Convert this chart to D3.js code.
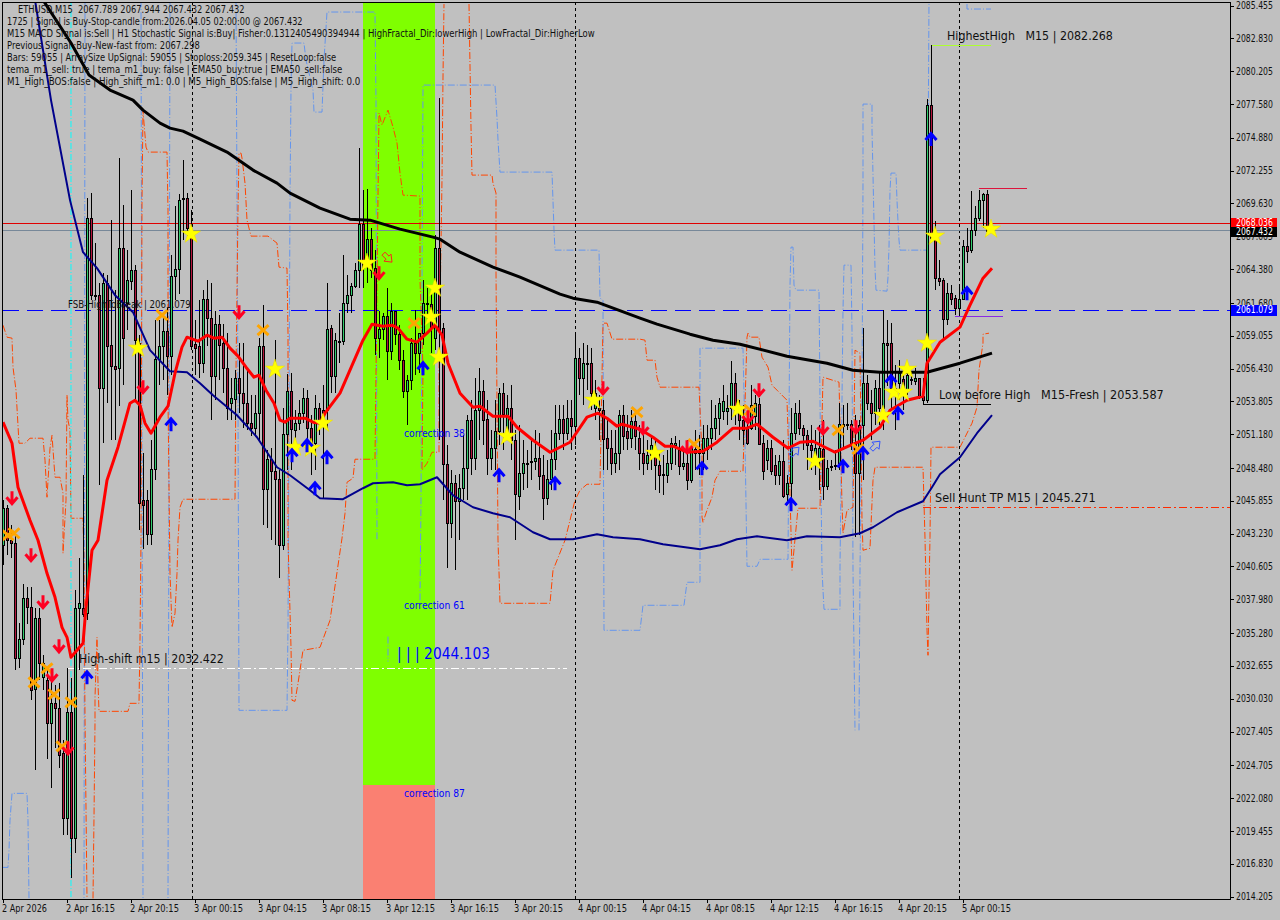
<!DOCTYPE html>
<html><head><meta charset="utf-8">
<style>html,body{margin:0;padding:0;background:#c0c0c0}svg{display:block}text{white-space:pre;font-family:"DejaVu Sans",sans-serif}</style>
<script src="https://cdn.jsdelivr.net/npm/d3@7/dist/d3.min.js"></script>
</head><body><div id="c"></div>
<script>
// Prices are stored as offsets from priceBase; the x unit is the M15 bar number.
const priceBase = 2000;
const candleOpen = [42.3,45.3,42.7,42.5,33.3,34.8,38.1,37.4,30.8,36.5,
31.8,31.5,28.1,29.7,29.3,25.7,20.5,29,18.9,37.3,
37.3,36.9,68.5,62.3,62.3,54.9,63.3,58.3,56.6,56.5,
66.1,61.7,63.4,64.3,58.5,45.9,45.9,43.2,48.4,57.2,
58.2,59.4,57.4,63.8,64.4,70,70.1,67.3,58.4,58.2,
56.9,62,60.5,55.8,60,58.5,56.5,53.7,54,55.7,
54.5,53.7,52.1,51.7,52.9,58.2,46.8,49.2,48.2,47.6,
42.3,51.2,54.6,51.5,52.1,52.9,54.1,51.7,50.5,53.3,
53.1,53.1,59.7,55.8,58.6,58.6,61.7,62.3,63,64.3,
68,64.9,66.8,64.5,58.9,59.6,60.6,57.8,61,59.2,
57.1,54.6,55.5,58.5,57.7,59.3,61.7,61.6,58.9,66.1,
59.7,48.8,44.1,47.3,45.8,46.9,48.5,52.3,49.3,53.1,
54.6,52.4,49.3,50.1,51.4,54.5,51.3,53.3,50.7,46.2,
48.1,48.9,49,49,49.3,47.9,46.1,47.6,49.2,51.3,
52.4,51.3,52.5,51.8,57.3,55.7,56.9,56.9,53.3,53.3,
53.1,50.9,50.1,48.9,49.7,52.7,51.4,50.9,52.2,50.9,
49.7,48.9,49.5,49.7,48.7,48,47.9,48.9,50.3,49.9,
48.6,48.9,47.5,49.7,50,49.7,50,50.9,51.7,52.5,
53,53,53.3,55.3,53.1,52.3,51.7,51.7,52.6,53.6,
50.5,49.1,50.1,48.7,47.9,49,46.4,47.3,51.3,52.9,
51.7,51.1,50.3,49.5,49.1,50,47,48.6,48.7,48.9,
51.8,52,52,50.5,48.1,51.9,55.3,53.7,52.9,54.9,
53.3,58.5,58.5,54.9,55.3,55.6,54.7,55.5,55.4,55.7,
54.2,53.9,77.5,67,63.7,63.5,60.4,62.5,62.1,61.3,
62,66.2,65.9,67.5,68.5,69.9,70.4];
const candleHigh = [45.9,45.5,43.9,43.1,36.1,39.2,39,39,37.3,37.3,
33.5,32.3,31.5,31.1,31.3,26.7,32.5,31.7,38.7,41.3,
47.9,70.1,70.5,66.5,63.3,64.1,63.9,68.3,62.7,73.3,
69.5,65.9,70.7,64.7,59.1,49.7,46.7,50.7,60.3,60.3,
60.7,61.3,65.5,69.4,70.4,73.1,70.5,69.1,60.3,61.9,
62.7,63.5,63.3,61,60.7,60,59.3,55.7,56.3,58.5,
58.5,56.3,54.3,54.3,58.9,61.5,49.9,50.1,58.7,48.3,
53.3,56,56.1,53.1,53.9,54.9,54.7,52.7,54.3,53.7,
55.1,63.3,59.9,59.3,60.9,65.5,63.9,63.3,64.9,74.1,
70.7,70.8,67.7,65.9,61,60.9,62.9,61.7,61,59.9,
57.9,55.9,58.9,61.1,59.3,63.5,62.9,62.7,67.1,78.1,
60.1,50.3,48.3,47.9,48,51.1,52.7,53.9,55.7,56.5,
55.5,53.9,51.5,53.9,54.9,55.3,54.3,55.1,51.5,51.9,
50.7,49.9,50.7,51.5,51.3,49.5,49.1,51.5,53.5,53.5,
53.5,53.9,53.9,59.3,58.1,58.5,58.3,58.1,55.5,54.3,
53.9,52.3,51.5,51.5,53.1,53.5,52.7,53.1,53.1,51.9,
51.5,50.7,51.1,50.7,49.9,49.5,49.9,50.9,51,50.7,
49.9,50.7,50.3,51.5,51.1,51.9,51.9,53.9,53.5,54.1,
55.1,54.3,57,56.1,53.9,53.5,52.7,55.1,54.3,54.1,
51.1,50.7,50.7,49.5,49.5,50.7,47.9,53.3,53.7,53.9,
51.9,51.5,51.9,51.5,51.9,52.3,49.1,49.1,49.9,53.7,
53.5,53.7,52.3,52.7,52.3,59.7,55.9,54.7,55.5,56.1,
61.1,60.3,60.1,56.7,57.1,56.1,56.3,56.1,56.5,55.7,
55.7,78,82.268,68.2,65.1,63.7,63.3,63.1,62.3,63.1,
66.7,67.7,70.6,69.4,70.7,70.5,70.7];
const candleLow = [40.7,41.5,41.3,32.3,32.5,34.3,36,29.9,24.3,31.5,
30.7,25.2,22.9,26.1,24.5,19.1,19.1,15.7,17.7,32.3,
36.6,36.3,61.9,61.9,47.1,50.5,53.7,50.7,50.7,53.4,
55.1,59.5,62.7,53.9,43.5,42,42.3,42.3,47.5,55.1,
55.5,54.3,55.9,61.9,62.4,66.7,66.7,57.9,55.9,55.7,
56.1,58.2,52.3,53.9,55.5,54.5,52.3,52.3,52.3,52.9,
51.7,51.5,51,51,50.7,43.9,43.7,42.7,42.3,39.7,
41.9,48.3,48.3,50.9,51.5,52.1,50.3,47.9,48.3,51.1,
46.1,51.5,54.5,54.5,56.9,58.3,60.9,60.9,62.9,62.9,
62.9,63.3,63.7,57.5,57.3,58.7,55.5,57.1,58.3,56.3,
54.1,51.9,54.7,55.9,56.1,58.3,60.3,57.7,57.9,50.7,
45.9,40.5,42.9,40.3,42.7,45.9,45.9,47.9,48.3,50.7,
50.3,47.9,48.3,48.3,50.3,49.9,50.7,49.1,42.7,45.1,
46.7,46.9,47.5,48.3,46.7,44.3,45.5,46.7,48.3,50.7,
49.9,50.7,49.9,50.3,54.3,53.5,54.7,53.1,52.3,50.7,
48.3,48.3,47.9,48.1,48.3,49.9,49.9,50.1,49.9,48.3,
47.9,48.3,48.3,46.7,46.5,46.3,47.3,48.3,48.7,47.9,
48.3,46.7,47.3,48.3,47.9,48.3,49.1,49.9,50.7,51.1,
52.3,51.9,52.3,51.9,50.7,50.3,50.3,51.5,51.5,50.3,
47.5,48.3,47.9,47.1,47.1,46.1,45.5,45.5,50.7,51.1,
49.9,48.3,48.3,47.9,46.7,45.9,46.7,48.2,48.3,48.3,
49.9,51.5,49.9,43,43.1,47.5,53.1,50.7,51.9,51.9,
51.5,55,53.1,51.5,53.9,53.1,54.3,55.1,55.1,54,
53.6,53.7,66.7,62.7,63,58.7,59.9,61.5,60.7,60.7,
61.9,64.9,65.7,67,68.2,67.7,67.4];
const candleClose = [45.3,42.7,42.5,33.3,34.8,38.1,37.4,30.7,36.5,32.9,
32.9,28.1,29.7,29.3,25.5,20.5,29,18.9,37.3,37.7,
36.8,68.5,62.3,62.2,54.9,63.3,58.2,56.6,56.4,66.1,
58.9,63.5,64.3,58.7,45.7,45.5,43.2,48.4,57.2,58.2,
59.4,57.4,63.8,64.4,69.9,70.1,67.7,58.2,58.1,56.9,
62,60.5,55.8,60,58.3,56.5,53.3,54.1,55.7,54.5,
53.7,52.1,51.7,52.9,58.2,46.8,49.2,48.2,47.6,42.3,
51.2,54.6,51.6,52.1,52.9,54.1,51.7,50.5,53.3,52.3,
52.9,59.6,55.8,58.7,58.6,61.7,62.3,63,64.3,68,
64.5,66.8,64.3,58.9,59.6,60.6,57.8,61,59.2,57.1,
54.6,55.5,58.5,57.7,59.3,61.7,61.6,59.7,66.1,59.5,
48.8,44.1,47.3,45.8,46.9,48.5,52.3,49.3,53.1,54.6,
52.3,49.3,50.1,51.4,54.5,52.8,53.3,50.7,46.4,48.1,
48.9,48.9,49,49.3,47.8,46.1,47.6,49.2,51.3,52.4,
51.3,52.5,51.8,57.3,55.7,56.9,56.9,54.5,54.5,53.1,
50.8,50.1,48.9,49.7,52.7,51,50.9,52.2,51,49.7,
48.9,49.5,50.3,48.7,47.9,47.9,48.9,50.5,50.5,48.6,
48.9,47.5,50.2,50,49.7,50.9,50.9,51.7,52.5,53.7,
53.8,53.3,55.3,53.1,52.3,51.5,50.5,53.5,53.7,50.4,
48.2,50.1,48.2,47.9,49,46.2,47.3,51.3,52.9,51.7,
51.1,50.3,49.9,50.1,50.1,47,48.5,48.6,48.7,52,
52,52,50.5,48.1,51.9,55.3,53.7,52.9,54.9,53.3,
58.5,58.3,54.9,54.7,56.1,54.3,55.9,55.6,55.7,54.2,
53.9,77.5,66.9,63.7,63.4,60.4,62.5,62,61.3,62,
66.2,65.8,67.5,68.5,69.9,70.4,67.432];

const temaBars = [0,2.25,3.75,6.75,8.75,11,13,14.75,16,17,20,20.75,22.25,23.75,26,28.75,31.75,33,34.25,35.5,37,39.25,41.25,43,44.75,46,48.75,51,52.75,54.75,56.75,58.75,60.75,62.75,64,65.75,67.75,69.25,70.5,71.75,75.5,77.5,79.25,80.5,84.25,87.5,90,92.25,95,97.25,98.75,101,103.5,106,108,109.75,111.25,114.25,117.5,119.25,122.5,126.25,128.5,132.5,136.75,141.75,146,148.75,151,153.5,154.75,159.25,162.5,165.5,167.5,171,175,178.5,182.5,186,188.5,192.5,196.25,199.25,202.5,208,212.5,215,219.25,221.75,226,230,231,234.25,239.25,241.75,245,247.25];
const temaValues = [52.14,50.46,46.94,44.3,42.7,40.06,38.14,35.74,34.94,33.34,34.46,37.34,41.9,42.7,47.5,50.14,53.66,53.9,53.5,52.06,51.26,52.54,53.42,56.06,58.14,58.94,58.62,59.1,58.86,58.94,58.06,57.42,56.54,55.74,55.9,54.7,53.66,52.3,52.14,52.46,52.46,52.14,52.06,52.86,54.46,56.86,58.7,59.98,59.82,59.9,59.66,58.78,58.54,59.26,59.9,59.1,56.86,54.46,53.34,53.42,52.62,52.62,51.74,50.7,49.74,50.54,52.54,52.86,52.46,51.82,51.98,51.58,50.94,50.22,50.22,49.74,49.82,50.54,51.66,51.66,51.98,50.94,50.06,50.54,50.62,49.74,50.38,50.7,51.74,53.1,53.9,54.22,56.86,58.54,59.74,61.5,63.66,64.46];

const ema50Bars = [8,12,16.75,20,23.5,28,32.5,36.75,41.75,46,49.25,52.5,58.5,63.5,68.5,71.75,76.75,79.25,85,90,92.5,97.5,101,104.25,108.5,112.5,117.5,122.5,126.75,132.5,136.75,142.5,148.5,152.5,159.25,165,174.25,179.25,183.5,188.5,196,201,209.25,214.25,217.5,223.5,230,232.25,234.25,239.25,243.5,247.25];
const ema50Values = [85.9,77.9,69.9,65.74,64.46,62.3,60.94,57.9,56.22,56.14,55.26,54.3,52.7,50.94,48.54,47.9,46.7,46.06,45.98,46.86,47.26,47.34,47.1,47.18,47.74,46.3,45.34,44.86,44.54,43.34,42.78,42.78,43.18,42.94,42.78,42.38,41.98,42.3,42.78,43.02,42.7,43.02,42.94,43.26,43.74,44.94,45.82,46.94,47.98,49.34,51.26,52.7];

const ema200Bars = [10,17,21.5,26.75,32.5,35,39.25,41.75,45,49.25,56,62.5,68.5,71.75,79.25,86.75,91.75,99.25,107.5,109.25,114.25,122.5,129.25,139.25,142.5,148.5,159.25,163.5,171.75,177.5,184.25,196,206,212.5,219.25,231,239.25,247.25];
const ema200Values = [85.9,82.46,79.9,78.7,77.9,77.1,76.06,75.66,75.42,74.78,73.74,72.3,71.26,70.46,69.26,68.38,68.3,67.58,66.94,66.78,65.74,64.54,63.74,62.38,62.06,61.74,60.46,59.98,59.18,58.7,58.38,57.42,56.86,56.3,56.14,56.14,56.86,57.66];

const blueBarsA = [0,1.25,1.5,1.75,2.25,6,6.25,6.5];
const blueValuesA = [16.54,16.54,17.9,20.3,22.46,22.46,20.3,14.06];
const blueBarsB = [20.5,20.25];
const blueValuesB = [85.9,14];
const blueBarsC = [34.5,35];
const blueValuesC = [85.9,14];
const blueBarsD = [41.75,41.25];
const blueValuesD = [85.9,14];
const blueBarsE = [58.25,58.75,59,71,71.25,71.75,72,72.25,75.25,75.75,77.5,77.75,79.75,80.25,81,93,93.25,93.5];
const blueValuesE = [85.9,53.9,29.1,29.1,35.74,69.9,78.7,82.46,82.46,81.1,78.7,76.94,76.94,81.1,84.94,84.94,77.9,42.7];
const blueBarsH = [96.25,96.25];
const blueValuesH = [35,33];
const blueBarsI = [104.25,104.5,105,123,123.5,123.75,124.25,137.25,137.75,138,149,149.25,150,150.25,159.25,160,170.25,171,174.25,174.25,175,185,185.5,186,188.5,189.25,196.25,196.75,197,197.5,197.75,198.25,204,204.25,204.75,205.25,209.25,209.25,209.75,210,210.25,212,212.25,212.5,213];
const blueValuesI = [37.9,45.9,79.1,79.1,76.46,74.7,72.14,72.14,67.5,65.9,65.9,62.06,61.9,35.5,35.5,37.5,37.5,39.34,39.34,58.06,58.06,58.06,50.7,40.62,40.62,41.18,41.18,63.1,66.14,66.14,63.1,62.7,62.7,53.9,40.3,37.18,37.18,40.62,53.9,61.1,64.7,64.7,59.5,40.3,27.5];
const blueBarsF = [214,214.25,214.75,215,215,217.25,217.25,217.5,217.75,218,218.25,221,221.25,221.5,221.75,222,223.25,223.5,223.75,224,224.25,231,231.25,231.5];
const blueValuesF = [27.5,40.3,53.9,71.26,77.58,77.58,75.5,71.9,68.14,64.46,62.7,62.62,63.74,66.14,70.7,72.06,72.06,69.9,68.14,66.7,65.9,65.9,72.3,85.9];
const blueBarsG = [241,241,247];
const blueValuesG = [85.58,85.18,85.18];

const orangeBarsA = [0,1,2.25,2.5,3.25,4,5.5,6.75,10,10.5,11,11.75,12.25,13,14.25,15,15,15.75,16,16.25,16.75,17,20,20.25,20.5,21];
const orangeValuesA = [59.9,58.94,58.86,56.54,54.7,50.46,50.46,50.86,50.86,49.1,46.14,50.06,51.1,47.74,47.74,46.46,41.66,45.9,54.3,52.3,51.5,44.46,44.46,41.1,28.54,14.06];
const orangeBarsB = [22.5,22.75,23,23,23.5,23.75,24,31.25,31.75,34,34.25,34.5,34.75,35,35.25,35.75,36.25,41,41.25,41.25,41.75,42.25,43,43.5,43.75,44.25,45,58,58.25,58.75,59,59.5,59.75,60.5,61,62,66.25,68.5,69,71,71.25,71.25,72,72.25,73,73.75,75,79.25,81.75,84.75,85.5,86,87.5,88,93,93.75,94,94.75,96.25,97.5,98.5,99.25,100,104.25,104.25,105,104.75,106,107.25,109,109,109.75,110,110.25];
const orangeValuesB = [14.06,20.54,28.06,30.14,34.94,31.26,29.02,29.02,29.66,29.66,34.7,42.7,69.9,77.1,76.06,74.14,73.74,73.74,69.1,53.9,40.06,35.74,36.86,40.06,42.7,45.34,45.98,45.98,56.3,69.1,73.66,73.66,73.26,71.26,68.3,67.02,67.02,66.46,64.54,64.46,59.26,42.7,34.14,29.9,29.82,31.26,33.9,34.14,36.3,42.86,44.86,47.34,47.66,49.18,49.18,70.14,76.86,75.9,77.1,75.74,74.46,72.06,70.3,70.22,63.5,56.54,48.3,48.86,49.74,49.74,56.06,71.5,79.74,85.58];
const orangeBarsC = [116.5,117,117.25,122.25,122.5,123.25,123.25,123.75,124.25,136.75,137.5,140.5,143,144.25,146,149.25,150,151,152.25,159.25,160.5,161,163,163.5,164.25,174,174.75,174.75,175,176,177.25,178,179.25,185,186,186.25,186.75,189,189.75,191.25,192.25,193.5,196,196.75,197.25,198.75,204.25,205,209,209.75,210,211,212.5,213,214.25,214.75,215,216.75,217.5,218,230,230.5,230.75,231,231.25,231.5,231.75,232,239.25,242.25,243.5,244,245,245,246.5];
const orangeValuesC = [85.58,75.74,71.9,71.9,71.26,70.46,64.3,42.7,37.66,37.66,40.3,42.7,45.9,46.7,47.18,47.18,60.06,60.06,58.78,58.78,58.7,57.1,57.1,55.74,54.94,54.94,49.66,44.54,44.14,45.1,46.14,47.5,48.22,48.22,58.94,59.26,58.94,58.94,57.34,56.54,55.1,54.7,53.9,46.46,40.3,45.26,45.26,55.74,55.34,45.66,43.26,45.1,45.34,57.9,57.66,44.3,41.9,42.06,47.5,48.54,48.54,42.86,39.26,35.5,33.5,38.7,42.94,50.14,50.14,52.06,53.34,56.3,58.46,59.18,59.26];

const starBars = [47,33.75,68,73,77,80,91,107,108,109,126,147.75,163,183.75,203,220,222.75,225,226,231,233,247];
const starValues = [67.18,58.06,56.38,50.14,50.06,52.06,64.86,60.54,62.86,57.34,51.02,53.9,49.66,53.18,49.02,52.7,54.54,54.54,56.38,58.46,67.02,67.58];
const sellArrowBars = [2.25,7,10,14,12.25,16.25,35,59,94,150,160,171,189,186.25,205,213.25];
const sellArrowValues = [46.06,41.5,37.74,34.22,31.9,26.06,54.94,60.94,64.06,54.86,51.66,50.14,54.7,52.54,51.66,51.74];
const buyArrowBars = [21,42,72.25,76,78,81,105,124,138,174.75,197,210,215,222,223.75,232,241];
const buyArrowValues = [31.74,51.98,49.5,50.3,46.86,49.34,56.46,47.9,47.26,48.46,45.58,48.62,49.66,55.42,52.86,74.78,62.46];
const crossBars = [1.25,2.75,7.75,11,12.75,17,14.75,39.75,65,102.75,158.5,172.75,186.75,208.75,213.75];
const crossValues = [43.1,43.26,31.34,32.46,30.38,29.74,26.22,60.7,59.5,60.06,52.94,50.38,53.1,51.5,49.98];
const hollowBars = [96,197.75,218];
const hollowValues = [65.34,49.74,50.22];
const hollowKinds = ["sell","buy","buy"];

const separatorBars = [47.25,143,239];
const yTickLabels = ["2085.455","2082.830","2080.205","2077.580","2074.880","2072.255","2069.630","2067.005","2064.380","2061.680","2059.055","2056.430","2053.805","2051.180","2048.480","2045.855","2043.230","2040.605","2037.980","2035.280","2032.655","2030.030","2027.405","2024.705","2022.080","2019.455","2016.830","2014.205"];
const xTickBars = [0,16,32,48,64,80,96,112,128,144,160,176,192,208,224,240];
const xTickLabels = ["2 Apr 2026","2 Apr 16:15","2 Apr 20:15","3 Apr 00:15","3 Apr 04:15","3 Apr 08:15","3 Apr 12:15","3 Apr 16:15","3 Apr 20:15","4 Apr 00:15","4 Apr 04:15","4 Apr 08:15","4 Apr 12:15","4 Apr 16:15","4 Apr 20:15","5 Apr 00:15"];
const headerLines = ["ETHUSD,M15  2067.789 2067.944 2067.432 2067.432",
"1725 | Signal is Buy-Stop-candle from:2026.04.05 02:00:00 @ 2067.432",
"M15 MACD Signal is:Sell | H1 Stochastic Signal is:Buy| Fisher:0.1312405490394944 | HighFractal_Dir:lowerHigh | LowFractal_Dir:HigherLow",
"Previous Signal :Buy-New-fast from: 2067.298",
"Bars: 59055 | ArraySize UpSignal: 59055 | Stoploss:2059.345 | ResetLoop:false",
"tema_m1_sell: true | tema_m1_buy: false | EMA50_buy:true | EMA50_sell:false",
"M1_High_BOS:false | High_shift_m1: 0.0 | M5_High_BOS:false | M5_High_shift: 0.0"];
const headerWidths = [227,296,588,193,330,336,354];

const W=1280,H=920,L=3,R=1230,T=2,B=899;
const x=d3.scaleLinear().domain([0,246]).range([3,987]);
const y=d3.scaleLinear().domain([2014.205,2085.455]).range([896.6,5.6]);
const py=v=>y(priceBase+v);
const svg=d3.select("#c").append("svg").attr("width",W).attr("height",H).attr("viewBox",`0 0 ${W} ${H}`);
svg.append("rect").attr("width",W).attr("height",H).attr("fill","#c0c0c0");
svg.append("defs").append("clipPath").attr("id","pane").append("rect").attr("x",L).attr("y",T).attr("width",R-L).attr("height",B-T);
const pane=svg.append("g").attr("clip-path","url(#pane)");

// Fibonacci zones
pane.append("rect").attr("x",x(90)).attr("width",x(108)-x(90)).attr("y",T).attr("height",py(23.1)-T).attr("fill","#7fff00").attr("shape-rendering","crispEdges");
pane.append("rect").attr("x",x(90)).attr("width",x(108)-x(90)).attr("y",py(23.1)).attr("height",B-py(23.1)).attr("fill","#fa8072").attr("shape-rendering","crispEdges");

// Stepped channels
const ln=d3.line().x(d=>x(d[0])).y(d=>py(d[1]));
function stepped(bars,vals,color,dash,w){pane.append("path").datum(d3.zip(bars,vals)).attr("d",ln).attr("fill","none").attr("stroke",color).attr("stroke-width",w||1).attr("stroke-dasharray",dash);}
const dd="7 2 1 2";
[[blueBarsA,blueValuesA],[blueBarsB,blueValuesB],[blueBarsC,blueValuesC],[blueBarsD,blueValuesD],[blueBarsE,blueValuesE],[blueBarsH,blueValuesH],[blueBarsI,blueValuesI],[blueBarsF,blueValuesF],[blueBarsG,blueValuesG]].forEach(p=>stepped(p[0],p[1],"#6495ed",dd));
[[orangeBarsA,orangeValuesA],[orangeBarsB,orangeValuesB],[orangeBarsC,orangeValuesC]].forEach(p=>stepped(p[0],p[1],"#ff4500",dd));
stepped([17,17],[85.9,14],"#00ffff","6 2 1 2");

// Separators
pane.selectAll(".sep").data(separatorBars).join("line").attr("x1",d=>x(d)+.5).attr("x2",d=>x(d)+.5).attr("y1",T).attr("y2",B).attr("stroke","#000").attr("stroke-dasharray","3 3").attr("shape-rendering","crispEdges");

// Horizontal levels
function hline(b0,b1,v,color,dash,w){const r=Math.floor(y(v))+.5;pane.append("line").attr("x1",b0).attr("x2",b1).attr("y1",r).attr("y2",r).attr("stroke",color).attr("stroke-width",w||1).attr("stroke-dasharray",dash||null).attr("shape-rendering","crispEdges");}
hline(L,R,2068.036,"#e00000");
hline(L,R,2067.432,"#778899");
hline(L,R,2061.079,"#0000ff","16 8");
hline(x(230),R,2045.3,"#ff2a00","8 3 2 3");
hline(x(16),x(141),2032.422,"#ffffff","8 3 2 3");
hline(x(232),x(247),2082.268,"#adff2f");
hline(x(244),x(256),2070.86,"#dc143c");
hline(x(238),x(250),2060.6,"#8a2be2");
hline(x(230),x(247),2053.587,"#000000");
pane.append("line").attr("x1",x(230)+.5).attr("x2",x(230)+.5).attr("y1",y(2054.2)).attr("y2",y(2053.587)).attr("stroke","#000");

// Candles
const candles=d3.range(candleOpen.length).map(i=>({i,o:candleOpen[i],h:candleHigh[i],l:candleLow[i],c:candleClose[i]}));
const cg=pane.append("g").attr("shape-rendering","crispEdges");
cg.selectAll("line").data(candles).join("line").attr("x1",d=>x(d.i)+.5).attr("x2",d=>x(d.i)+.5).attr("y1",d=>py(d.h)).attr("y2",d=>py(d.l)).attr("stroke","#000");
cg.selectAll("rect").data(candles).join("rect")
 .attr("x",d=>x(d.i)-.5).attr("width",2)
 .attr("y",d=>Math.round(py(Math.max(d.o,d.c)))+.5)
 .attr("height",d=>Math.max(1,Math.round(py(Math.min(d.o,d.c)))-Math.round(py(Math.max(d.o,d.c)))))
 .attr("fill",d=>d.c>=d.o?"#32cd6e":"#b4143c").attr("stroke","#000");

// Moving averages
const thick=(bars,vals,color,w)=>pane.append("path").datum(d3.zip(bars,vals)).attr("d",ln).attr("fill","none").attr("stroke",color).attr("stroke-width",w).attr("stroke-linejoin","round");
thick(ema50Bars,ema50Values,"#00008b",2);
thick(ema200Bars,ema200Values,"#000000",3);
thick(temaBars,temaValues,"#ff0000",3);

// Markers
const at=(b,v)=>`translate(${x(b)},${py(v)})`;
const star=d3.symbol(d3.symbolStar,115)();
pane.selectAll(".star").data(d3.zip(starBars,starValues)).join("path").attr("d",star).attr("transform",d=>at(d[0],d[1])).attr("fill","#ffff00").attr("stroke","#e8d800").attr("stroke-width",.5);
pane.selectAll(".x").data(d3.zip(crossBars,crossValues)).join("path").attr("d","M-5.5,-5L5.5,5M5.5,-5L-5.5,5").attr("transform",d=>at(d[0],d[1])).attr("fill","none").attr("stroke","#ffa500").attr("stroke-width",3);
pane.selectAll(".dn").data(d3.zip(sellArrowBars,sellArrowValues)).join("path").attr("d","M0,-7V6M-5.5,-1L0,5.5L5.5,-1").attr("transform",d=>at(d[0],d[1])).attr("fill","none").attr("stroke","#ff0022").attr("stroke-width",3);
pane.selectAll(".up").data(d3.zip(buyArrowBars,buyArrowValues)).join("path").attr("d","M0,7V-5.5M-5.5,1L0,-5.5L5.5,1").attr("transform",d=>at(d[0],d[1])).attr("fill","none").attr("stroke","#0000ff").attr("stroke-width",3);
const hollowPath="M-5,2L-1,-2L-3,-4L5,-5L4,3L2,1L-2,5Z";
pane.selectAll(".hollow").data(d3.zip(hollowBars,hollowValues,hollowKinds)).join("path").attr("d",hollowPath)
 .attr("transform",d=>at(d[0],d[1])+(d[2]==="sell"?" rotate(90)":"")).attr("fill","none").attr("stroke",d=>d[2]==="sell"?"#ff2020":"#3050ff").attr("stroke-width",1);

// Frame and axes
svg.append("path").attr("d",`M${L-.5},${T+.5}H${R+.5}V${B+.5}H${L-.5}Z`).attr("fill","none").attr("stroke","#000").attr("shape-rendering","crispEdges");
// Text is squeezed horizontally to the width measured in the reference.
const txt=(s,xx,yy,w,size,color)=>{
  const t=svg.append("text").text(s).attr("font-size",size).attr("fill",color||"#101010").attr("dominant-baseline","middle");
  const natural=t.node().getComputedTextLength();
  t.attr("transform",`translate(${xx},${yy}) scale(${w/natural},1)`);
  return t;
};
yTickLabels.forEach(s=>{const yy=y(+s);svg.append("line").attr("x1",R).attr("x2",R+4).attr("y1",Math.round(yy)+.5).attr("y2",Math.round(yy)+.5).attr("stroke","#000").attr("shape-rendering","crispEdges");txt(s,1236,yy+.8,37,10);});
xTickBars.forEach((b,i)=>{const xx=x(b)+.5;svg.append("line").attr("x1",xx).attr("x2",xx).attr("y1",B).attr("y2",B+4).attr("stroke","#000").attr("shape-rendering","crispEdges");txt(xTickLabels[i],xx-1.5,909,i===0?45:49,10);});

// Price tags
const priceTags=[2068.036,2067.432,2061.079];
const tagColors=["#ff0000","#000000","#0000ff"];
const tagTop=[218,227,305], tagHeight=[10,9.5,11], tagText=[223,232,310.5];
priceTags.forEach((p,i)=>{svg.append("rect").attr("x",1231).attr("y",tagTop[i]).attr("width",46).attr("height",tagHeight[i]).attr("fill",tagColors[i]).attr("shape-rendering","crispEdges");txt(d3.format(".3f")(p),1236,tagText[i],37,10,"#ffffff");});

// Header
headerLines.forEach((s,i)=>txt(s,i===0?18:7,10.5+i*12.05,headerWidths[i],10));

// Chart labels
txt("HighestHigh   M15 | 2082.268",947,36,166,12);
txt("Low before High   M15-Fresh | 2053.587",939,395,225,12);
txt("Sell Hunt TP M15 | 2045.271",935,498,161,12);
txt("High-shift m15 | 2032.422",79,659,145,12);
txt("FSB-HighToBreak | 2061.079",68,304.5,123,10.5);
[["correction 38",433.5],["correction 61",605.5],["correction 87",793.5]].forEach(d=>txt(d[0],404,d[1],61,10.5,"#0000ff"));
txt("| | | 2044.103",397,654.5,93,15,"#0000ff");
</script></body></html>
